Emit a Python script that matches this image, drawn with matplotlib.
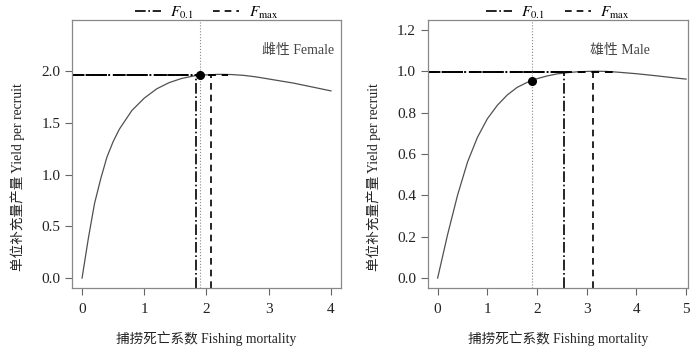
import matplotlib
matplotlib.use('Agg')
import matplotlib.pyplot as plt
from matplotlib.lines import Line2D

plt.rcParams['font.family'] = ['Liberation Serif', 'Noto Sans CJK SC']
plt.rcParams['mathtext.fontset'] = 'stix'

# Female yield per recruit curve
f_female = [0, 0.1, 0.2, 0.3, 0.4, 0.5, 0.6, 0.8, 1.0, 1.2, 1.4, 1.6, 1.8,
            2.0, 2.2, 2.4, 2.6, 2.8, 3.0, 3.2, 3.4, 3.6, 3.8, 4.0]
y_female = [0, 0.38, 0.72, 0.96, 1.17, 1.32, 1.44, 1.62, 1.74, 1.83, 1.89, 1.93, 1.955,
            1.965, 1.97, 1.968, 1.96, 1.945, 1.925, 1.905, 1.885, 1.86, 1.835, 1.81]

# Male yield per recruit curve
f_male = [0, 0.2, 0.4, 0.6, 0.8, 1.0, 1.2, 1.4, 1.6, 1.8, 2.0, 2.2, 2.4, 2.6,
          2.8, 3.0, 3.2, 3.4, 3.6, 3.8, 4.0, 4.4, 4.8, 5.0]
y_male = [0, 0.21, 0.40, 0.56, 0.68, 0.77, 0.835, 0.885, 0.922, 0.946, 0.964, 0.977, 0.987, 0.993,
          0.997, 0.999, 1.0, 0.999, 0.996, 0.992, 0.988, 0.978, 0.967, 0.962]

# reference points: current F, F0.1, Fmax
panels = [
    dict(f=f_female, y=y_female, f_cur=1.89, y_cur=1.96, f01=1.83, y01=1.955, fmax=2.07, ymax=1.965,
         h_end=2.35, h_y=1.963, xlim=(-0.16, 4.16), ylim=(-0.096, 2.496),
         xticks=[0, 1, 2, 3, 4], yticks=[0.0, 0.5, 1.0, 1.5, 2.0], label='雌性 Female', lab_xy=(2.89, 2.2)),
    dict(f=f_male, y=y_male, f_cur=1.89, y_cur=0.952, f01=2.55, y01=0.992, fmax=3.12, ymax=1.0,
         h_end=3.55, h_y=0.996, xlim=(-0.2, 5.04), ylim=(-0.048, 1.248),
         xticks=[0, 1, 2, 3, 4, 5], yticks=[0.0, 0.2, 0.4, 0.6, 0.8, 1.0, 1.2], label='雄性 Male', lab_xy=(3.06, 1.1)),
]
positions = [[0.103, 0.191, 0.384, 0.753], [0.611, 0.191, 0.372, 0.753]]

fig = plt.figure(figsize=(7, 3.56), dpi=100)

for p, pos in zip(panels, positions):
    ax = fig.add_axes(pos)
    ax.plot(p['f'], p['y'], color='#505050', lw=0.9)
    x0 = p['xlim'][0]
    # horizontal reference lines
    ax.plot([x0, p['f01']], [p['h_y'], p['h_y']], color='black', lw=1.4, ls='-.')
    ax.plot([x0, p['h_end']], [p['h_y'], p['h_y']], color='black', lw=1.4, ls=(0, (4, 3)))
    # vertical reference lines
    ax.axvline(p['f_cur'], color='#888888', lw=0.8, ls=':')
    ax.plot([p['f01'], p['f01']], [p['ylim'][0], p['y01']], color='black', lw=1.2, ls='-.')
    ax.plot([p['fmax'], p['fmax']], [p['ylim'][0], p['ymax']], color='black', lw=1.2, ls=(0, (4, 3)))
    ax.plot(p['f_cur'], p['y_cur'], 'o', color='black', ms=5.5)

    ax.set_xlim(p['xlim'])
    ax.set_ylim(p['ylim'])
    ax.set_xticks(p['xticks'])
    ax.set_yticks(p['yticks'])
    ax.set_xticklabels([str(t) for t in p['xticks']])
    ax.set_yticklabels(['%.1f' % t for t in p['yticks']])
    ax.tick_params(direction='out', length=5, width=0.8, colors='#666666', labelcolor='#222222', labelsize=11)
    ax.tick_params(axis='x', pad=6)
    for s in ax.spines.values():
        s.set_color('#888888')
        s.set_linewidth(0.9)

    ax.text(p['lab_xy'][0], p['lab_xy'][1], p['label'], fontsize=10, color='#444444', ha='left', va='center')
    ax.set_xlabel('捕捞死亡系数 Fishing mortality', fontsize=9.8, color='#222222')
    ax.xaxis.set_label_coords(0.5, -0.16)
    ax.set_ylabel('单位补充量产量 Yield per recruit', fontsize=9.8, color='#222222')
    ax.yaxis.set_label_coords(-47.0 / (pos[2] * 700), 0.414)

    handles = [Line2D([], [], color='black', lw=1.2, ls='-.'),
               Line2D([], [], color='black', lw=1.2, ls=(0, (4, 3)))]
    ax.legend(handles, ['$F_{0.1}$', '$F_{\\max}$'], loc='lower center', bbox_to_anchor=(0.5, 0.975),
              ncol=2, frameon=False, fontsize=11, handlelength=1.7, columnspacing=1.3,
              borderaxespad=0, handletextpad=0.6)

fig.savefig('out.png', dpi=100)
